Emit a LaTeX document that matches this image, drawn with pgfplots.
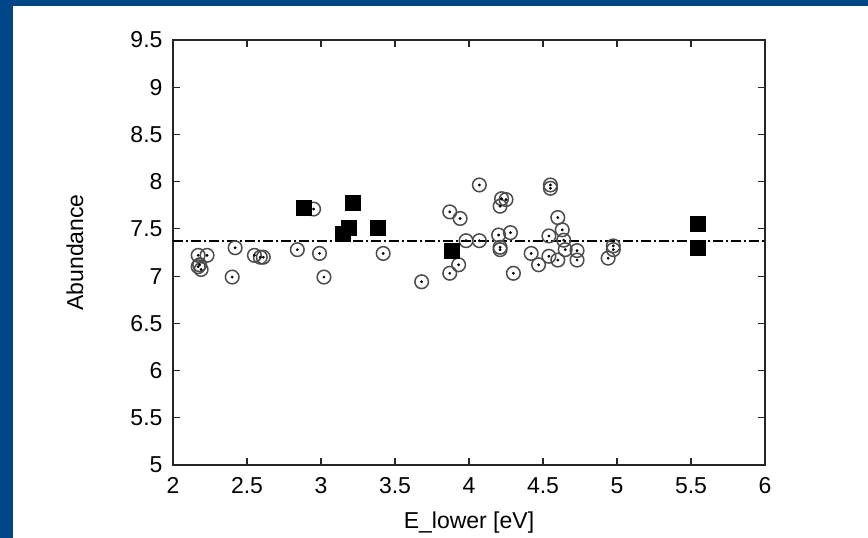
\documentclass[border=0pt]{standalone}
\usepackage{fontspec}
\setmainfont{Liberation Sans}
\usepackage{pgfplots}
\pgfplotsset{compat=1.18}
\definecolor{frameblue}{RGB}{0,70,137}
\pgfplotstableread{
x y
2.17 7.22
2.23 7.22
2.17 7.10
2.19 7.07
2.18 7.12
2.42 7.30
2.40 6.99
2.55 7.22
2.59 7.20
2.61 7.20
2.84 7.28
2.95 7.71
2.99 7.24
3.02 6.99
3.42 7.24
3.68 6.94
3.87 7.68
3.94 7.61
3.93 7.12
3.87 7.03
3.98 7.375
4.07 7.375
4.07 7.965
4.22 7.82
4.25 7.81
4.21 7.74
4.20 7.435
4.28 7.46
4.21 7.305
4.21 7.28
4.30 7.03
4.42 7.24
4.47 7.12
4.55 7.965
4.55 7.93
4.60 7.62
4.54 7.425
4.63 7.49
4.64 7.38
4.65 7.28
4.54 7.21
4.60 7.17
4.73 7.27
4.73 7.17
4.94 7.19
4.975 7.32
4.975 7.28
}\circdata
\pgfplotstableread{
x y
2.885 7.724
3.214 7.777
3.19 7.513
3.147 7.453
3.38 7.513
3.883 7.27
5.543 7.559
5.543 7.305
}\sqdata
\begin{document}
\begin{tikzpicture}[x=1pt,y=1pt]
\fill[frameblue] (0,0) rectangle (868,538);
\fill[white] (13,0) rectangle (868,532);
\begin{axis}[
  at={(173pt,73pt)}, anchor=south west,
  scale only axis, width=592pt, height=425pt,
  xmin=2, xmax=6, ymin=5, ymax=9.5,
  xtick={2,2.5,...,6}, ytick={5,5.5,...,9.5},
  tick align=inside, major tick length=7pt,
  axis line style={black!85, line width=1.4pt},
  tick style={black!85, line width=1.2pt},
  /pgf/number format/assume math mode=true,
  ticklabel style={font=\fontsize{23}{26}\selectfont},
  xticklabel style={yshift=-9pt},
  yticklabel style={xshift=-7pt},
  label style={font=\fontsize{23}{26}\selectfont},
  xlabel={E\_lower [eV]},
  ylabel={Abundance},
  xlabel style={at={(axis description cs:0.5,-0.1365)}, anchor=center},
  ylabel style={at={(axis description cs:-0.1655,0.5)}, anchor=center},
  clip=false,
]
\addplot[black, line width=1.5pt, dash pattern=on 10pt off 3pt on 2pt off 3pt] coordinates {(2,7.37) (6,7.37)};
\addplot[only marks, mark=o, mark size=6.8pt, mark options={draw=black!70, line width=1.5pt}] table[x=x,y=y] {\circdata};
\addplot[only marks, mark=*, mark size=1.2pt, mark options={fill=black, draw=black}] table[x=x,y=y] {\circdata};
\addplot[only marks, mark=square*, mark size=7.5pt, mark options={fill=black, draw=black}] table[x=x,y=y] {\sqdata};
\end{axis}
\end{tikzpicture}
\end{document}
